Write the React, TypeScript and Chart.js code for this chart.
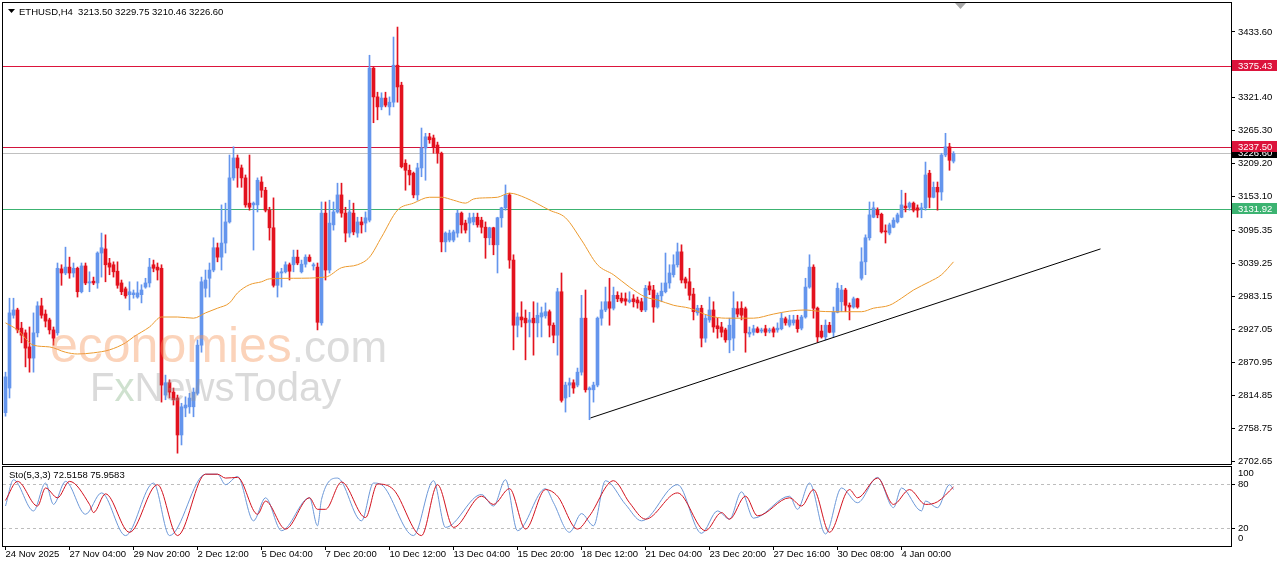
import React, { useEffect, useRef } from 'react';
import { Chart, registerables } from 'chart.js';

Chart.register(...registerables);

// ---------- DATA ----------
const opens = [
  2785, 2827, 2951, 2960, 2929, 2921, 2897, 2878, 2921, 2967, 2953, 2943, 2926, 2921, 3030, 3023, 3033, 3023, 3031, 2991,
  3035, 3006, 3009, 3006, 3057, 3064, 3040, 3037, 3026, 3006, 2996, 2986, 2986, 2982, 2986, 2999, 3006, 3037, 3033, 3031,
  2815, 2836, 2820, 2810, 2747, 2793, 2795, 2795, 2818, 2900, 2997, 3014, 3028, 3066, 3050, 3074, 3110, 3185, 3219, 3202,
  3185, 3142, 3139, 3139, 3178, 3164, 3130, 3100, 3002, 3023, 3025, 3037, 3037, 3050, 3025, 3038, 3050, 3035, 3033, 2938,
  3125, 3028, 3105, 3127, 3156, 3125, 3091, 3125, 3091, 3110, 3108, 3113, 3372, 3323, 3306, 3321, 3306, 3314, 3377, 3343,
  3210, 3198, 3193, 3156, 3202, 3236, 3255, 3253, 3241, 3227, 3076, 3079, 3079, 3091, 3125, 3108, 3108, 3110, 3118, 3113,
  3101, 3083, 3100, 3071, 3117, 3134, 3156, 3045, 2934, 2948, 2946, 2939, 2946, 2938, 2948, 2950, 2957, 2934, 2917, 2991,
  2810, 2832, 2836, 2832, 2854, 2946, 2824, 2824, 2832, 2946, 2960, 2974, 2963, 2985, 2980, 2979, 2974, 2979, 2977, 2974,
  2960, 3001, 2994, 2965, 2984, 2991, 3006, 3020, 3037, 3059, 3013, 3008, 2987, 2955, 2963, 2912, 2943, 2960, 2933, 2931,
  2926, 2909, 2912, 2962, 2963, 2962, 2919, 2922, 2928, 2924, 2928, 2924, 2928, 2926, 2928, 2945, 2934, 2938, 2943, 2929,
  2948, 2999, 3033, 2963, 2924, 2914, 2934, 2922, 2956, 2974, 2994, 2968, 2965, 2979, 3014, 3042, 3083, 3118, 3130, 3123,
  3094, 3091, 3101, 3110, 3118, 3137, 3135, 3142, 3134, 3132, 3134, 3193, 3152, 3169, 3161, 3224, 3238, 3213.5,
];
const highs = [
  2854, 2980, 2980, 2963, 2939, 2926, 2931, 2955, 2974, 2980, 2960, 2946, 2931, 3040, 3037, 3067, 3050, 3040, 3033, 3040,
  3040, 3025, 3016, 3059, 3091, 3088, 3048, 3042, 3042, 3011, 2999, 3008, 2994, 3008, 3003, 3014, 3048, 3045, 3040, 3037,
  2849, 2841, 2827, 2815, 2801, 2812, 2818, 2827, 2909, 3016, 3028, 3040, 3083, 3074, 3139, 3142, 3224, 3238, 3224, 3207,
  3190, 3224, 3144, 3185, 3187, 3169, 3135, 3151, 3025, 3031, 3042, 3040, 3062, 3062, 3045, 3054, 3054, 3040, 3040, 3144,
  3144, 3147, 3144, 3176, 3176, 3135, 3147, 3142, 3118, 3118, 3127, 3394, 3374, 3331, 3330, 3331, 3323, 3425, 3442, 3348,
  3216, 3207, 3195, 3210, 3270, 3261, 3261, 3258, 3246, 3229, 3093, 3096, 3096, 3130, 3127, 3113, 3125, 3125, 3125, 3118,
  3110, 3101, 3101, 3118, 3135, 3173, 3159, 3054, 2955, 2974, 2960, 2956, 2974, 2972, 2965, 2972, 2960, 2938, 2997, 3023,
  2837, 2844, 2841, 2861, 2985, 2994, 2829, 2837, 2948, 2974, 2999, 3014, 2999, 2991, 2989, 2989, 2991, 2986, 2982, 2980,
  3002, 3008, 3002, 2989, 3006, 3057, 3037, 3054, 3074, 3071, 3016, 3031, 2997, 2968, 2968, 2951, 2982, 2974, 2946, 2939,
  2929, 2946, 2991, 2974, 2974, 2965, 2931, 2934, 2931, 2929, 2934, 2929, 2931, 2938, 2955, 2948, 2951, 2951, 2951, 2951,
  3014, 3054, 3037, 2965, 2934, 2943, 2939, 2965, 3006, 3002, 2997, 2972, 2982, 2980, 3066, 3088, 3144, 3144, 3134, 3125,
  3105, 3108, 3117, 3125, 3164, 3159, 3144, 3144, 3139, 3142, 3212, 3198, 3178, 3178, 3227, 3261, 3244, 3229.75,
];
const lows = [
  2779, 2810, 2946, 2921, 2904, 2863, 2854, 2854, 2914, 2946, 2931, 2919, 2900, 2917, 3002, 3020, 3014, 3016, 2982, 2989,
  3003, 2991, 3003, 2997, 3016, 3008, 3020, 3016, 2997, 2986, 2980, 2960, 2980, 2980, 2972, 2997, 2999, 3025, 3011, 2803,
  2807, 2810, 2798, 2716, 2730, 2778, 2784, 2778, 2815, 2888, 2982, 2982, 3025, 3042, 3028, 3057, 3108, 3181, 3169, 3169,
  3135, 3130, 3062, 3127, 3152, 3127, 3079, 2999, 2982, 2999, 3023, 3011, 3025, 3037, 3023, 3033, 3042, 3028, 2926, 2934,
  3011, 3023, 3096, 3125, 3118, 3076, 3084, 3088, 3084, 3091, 3093, 3110, 3279, 3284, 3301, 3306, 3292, 3306, 3314, 3202,
  3164, 3173, 3151, 3147, 3187, 3181, 3244, 3227, 3210, 3059, 3059, 3076, 3076, 3084, 3091, 3091, 3076, 3105, 3101, 3091,
  3048, 3071, 3054, 3023, 3101, 3130, 3031, 2892, 2914, 2931, 2875, 2914, 2883, 2914, 2914, 2946, 2914, 2904, 2883, 2803,
  2786, 2812, 2818, 2829, 2849, 2820, 2773, 2803, 2829, 2934, 2957, 2934, 2960, 2974, 2972, 2968, 2972, 2965, 2963, 2957,
  2957, 2986, 2939, 2963, 2974, 2989, 2997, 3016, 3033, 3006, 2997, 2977, 2943, 2951, 2897, 2905, 2939, 2922, 2912, 2914,
  2905, 2887, 2891, 2948, 2943, 2888, 2914, 2917, 2921, 2921, 2916, 2921, 2914, 2922, 2926, 2934, 2931, 2934, 2922, 2926,
  2946, 2997, 2946, 2905, 2912, 2909, 2921, 2914, 2955, 2957, 2957, 2943, 2963, 2963, 3011, 3020, 3079, 3117, 3117, 3091,
  3074, 3088, 3100, 3108, 3117, 3127, 3130, 3127, 3118, 3117, 3130, 3134, 3151, 3130, 3147, 3221, 3198, 3210.46,
];
const closes = [
  2846, 2955, 2960, 2926, 2917, 2895, 2878, 2921, 2967, 2951, 2941, 2926, 2912, 3031, 3023, 3033, 3023, 3031, 2991, 3035,
  3006, 3008, 3006, 3057, 3066, 3037, 3033, 3025, 3002, 2991, 2984, 2991, 2989, 2989, 2994, 3006, 3033, 3031, 3028, 2832,
  2836, 2820, 2807, 2747, 2795, 2798, 2810, 2820, 2900, 3008, 3011, 3028, 3066, 3050, 3074, 3110, 3185, 3219, 3202, 3185,
  3139, 3135, 3142, 3181, 3164, 3130, 3100, 3002, 3023, 3025, 3037, 3026, 3050, 3040, 3038, 3050, 3043, 3037, 2939, 3125,
  3028, 3108, 3127, 3156, 3125, 3091, 3127, 3093, 3110, 3105, 3117, 3372, 3323, 3306, 3321, 3309, 3314, 3377, 3340, 3204,
  3198, 3190, 3156, 3202, 3236, 3255, 3250, 3238, 3227, 3076, 3091, 3091, 3093, 3125, 3105, 3096, 3117, 3118, 3105, 3101,
  3083, 3100, 3071, 3117, 3134, 3156, 3045, 2934, 2948, 2943, 2938, 2943, 2938, 2951, 2955, 2957, 2934, 2917, 2991, 2806,
  2832, 2836, 2827, 2854, 2946, 2824, 2827, 2832, 2946, 2960, 2974, 2963, 2985, 2979, 2975, 2975, 2977, 2974, 2972, 2960,
  2997, 2994, 2965, 2985, 2992, 3006, 3023, 3037, 3059, 3011, 3006, 2985, 2957, 2963, 2912, 2946, 2960, 2931, 2928, 2922,
  2909, 2934, 2963, 2953, 2951, 2921, 2922, 2928, 2922, 2926, 2922, 2926, 2922, 2929, 2946, 2938, 2943, 2943, 2928, 2948,
  2999, 3033, 2963, 2914, 2914, 2934, 2922, 2956, 2997, 2994, 2968, 2965, 2979, 2965, 3042, 3083, 3122, 3134, 3122, 3093,
  3093, 3105, 3113, 3122, 3139, 3134, 3142, 3130, 3130, 3134, 3190, 3152, 3169, 3161, 3224, 3238, 3215, 3226.6,
];

// moving average (orange), sampled at candle indices
const maIdx = [0, 3, 7, 11, 15, 18, 22, 26, 30, 32, 36, 39, 43, 47, 50, 53, 56, 58, 61, 64, 66, 72, 80, 84, 88, 91, 94, 98,
  102, 106, 109, 112, 115, 117, 120, 123, 126, 130, 136, 140, 144, 148, 152, 156, 160, 163, 167, 171, 176, 180, 184, 187,
  192, 196, 200, 203, 207, 214, 217, 221, 224, 227, 231, 234, 237];
const maVal = [2938, 2926, 2900, 2897, 2888, 2885, 2887, 2892, 2904, 2914, 2931, 2948, 2948, 2946, 2955, 2963, 2972, 2989,
  3003, 3008, 3013, 3014, 3016, 3032, 3037, 3050, 3084, 3130, 3142, 3152, 3152, 3147, 3142, 3149, 3151, 3152, 3159, 3151,
  3130, 3117, 3079, 3037, 3020, 2999, 2982, 2977, 2968, 2963, 2950, 2946, 2946, 2946, 2953, 2958, 2960, 2958, 2957, 2957,
  2963, 2968, 2980, 2994, 3008, 3020, 3042];

// Stochastic(5,3,3): main line (blue) and signal line (red)
const stoMainIdx = [0, 2, 7, 10, 12, 15, 20, 24, 30, 37, 41, 50, 53, 55, 58, 62, 65, 69, 76, 78, 79, 83, 89, 92, 94, 102,
  107, 110, 119, 122, 125, 128, 135, 137, 141, 144, 147, 150, 155, 159, 168, 174, 178, 181, 184, 187, 196, 198, 201, 205,
  209, 213, 218, 222, 224, 229, 230, 233, 236, 237];
const stoMainVal = [50, 85.8, 43.3, 81.3, 52.2, 83.6, 38.8, 67.9, 9.7, 81.3, 9.7, 93.4, 93.4, 79.1, 90.3, 29.8, 61.2, 16.4,
  61.2, 23.1, 59, 88.1, 29.8, 81.3, 79.1, 9.7, 84.5, 20.9, 65.7, 50, 85.8, 16.4, 73.7, 54.5, 14.2, 39.7, 23.1, 84.5, 52.2,
  29.8, 79.1, 12.8, 43.3, 32.1, 69.3, 33.4, 63.4, 45.5, 81.3, 11.9, 74.6, 54.5, 89, 47.8, 74.6, 43.3, 56.7, 47.8, 79.1,
  72.5158];
const stoSigIdx = [0, 3, 8, 10, 13, 16, 21, 22, 25, 31, 38, 43, 50, 53, 55, 58, 63, 65, 70, 76, 78, 80, 84, 90, 93, 97, 104,
  108, 112, 119, 122, 126, 130, 135, 138, 143, 146, 152, 156, 160, 168, 175, 179, 181, 185, 188, 196, 199, 202, 206, 211,
  213, 218, 222, 226, 230, 233, 237];
const stoSigVal = [57.6, 83.6, 50, 74.6, 61.2, 83.6, 52.2, 41.1, 66.6, 14.2, 79.1, 9.7, 93.4, 93.4, 88.1, 89, 38.8, 56.7,
  18.6, 61.2, 45.5, 45.5, 82.7, 34.3, 80, 72.4, 9.7, 79.1, 20.9, 63.4, 52.2, 73.7, 18.6, 72.4, 63.4, 18.6, 36.6, 84.5, 54.5,
  32.1, 67.9, 16.4, 41.1, 32.1, 63.4, 36.6, 61.2, 50, 72.4, 14.2, 72.4, 61.2, 88.1, 52.2, 72.4, 52.2, 55.8, 75.9583];

const priceTicks = [2702.65, 2758.75, 2814.85, 2870.95, 2927.05, 2983.15, 3039.25, 3095.35, 3153.1, 3209.2, 3265.3,
  3321.4, 3433.6];
const stoTicks = [20, 80];
const timeLabels = ['24 Nov 2025', '27 Nov 04:00', '29 Nov 20:00', '2 Dec 12:00', '5 Dec 04:00', '7 Dec 20:00',
  '10 Dec 12:00', '13 Dec 04:00', '15 Dec 20:00', '18 Dec 12:00', '21 Dec 04:00', '23 Dec 20:00', '27 Dec 16:00',
  '30 Dec 08:00', '4 Jan 00:00'];
const timeLabelIdx = [0, 16, 32, 48, 64, 80, 96, 112, 128, 144, 160, 176, 192, 208, 224];

const levelPrices = [3375.43, 3226.6, 3237.5, 3131.92];
const trendIdx = [146.25, 273.75];
const trendVal = [2776, 3064];

const headerText = 'ETHUSD,H4  3213.50 3229.75 3210.46 3226.60';
const stoText = 'Sto(5,3,3) 72.5158 75.9583';

// ---------- STYLE / LAYOUT ----------
const W = 1280;
const H = 567;
const LEFT = 3;
const RIGHT = 1231;
const MAIN_TOP = 3;
const MAIN_BOTTOM = 464;
const STO_TOP = 467;
const STO_BOTTOM = 546;
const X_MIN = -0.625;
const X_MAX = X_MIN + (RIGHT - LEFT) / 4;
const Y_MAX = 3483.0;
const Y_MIN = 2697.54;
const STO_MAX = 103.2;
const STO_MIN = -4.5;
const BULL = '#6495ED';
const BEAR = '#E3121E';
const FONT = '"Liberation Sans", Arial, sans-serif';
const levelLine = ['#DC143C', '#C0C0C0', '#D2143C', '#3CB371'];
const levelTag = ['#DC143C', '#000000', '#DC143C', '#3CB371'];

export default function App() {
  const mainRef = useRef<HTMLCanvasElement | null>(null);
  const stoRef = useRef<HTMLCanvasElement | null>(null);

  useEffect(() => {
    const idx = opens.map((_, i) => i);
    const colors = idx.map((i) => (closes[i] >= opens[i] ? BULL : BEAR));

    const mainPlugin = {
      id: 'mainDecor',
      beforeDatasetsDraw(chart: any) {
        const { ctx, chartArea, scales } = chart;
        ctx.save();
        levelPrices.forEach((p, k) => {
          const y = Math.round(scales.y.getPixelForValue(p)) + 0.5;
          ctx.strokeStyle = levelLine[k];
          ctx.lineWidth = 1;
          ctx.beginPath();
          ctx.moveTo(chartArea.left, y);
          ctx.lineTo(chartArea.right, y);
          ctx.stroke();
        });
        ctx.restore();
      },
      afterDatasetsDraw(chart: any) {
        const { ctx } = chart;
        ctx.save();
        ctx.textBaseline = 'alphabetic';
        ctx.textAlign = 'left';
        ctx.font = `50px ${FONT}`;
        ctx.fillStyle = 'rgba(245,150,90,0.42)';
        ctx.fillText('economies', 50, 362);
        const w1 = ctx.measureText('economies').width;
        ctx.font = `44px ${FONT}`;
        ctx.fillStyle = 'rgba(150,150,150,0.33)';
        ctx.fillText('.com', 50 + w1, 362);
        ctx.font = `40px ${FONT}`;
        let x = 90;
        ctx.fillStyle = 'rgba(150,150,150,0.35)';
        ctx.fillText('F', x, 401);
        x += ctx.measureText('F').width;
        ctx.fillStyle = 'rgba(110,165,110,0.33)';
        ctx.fillText('x', x, 401);
        x += ctx.measureText('x').width;
        ctx.fillStyle = 'rgba(150,150,150,0.35)';
        ctx.fillText('NewsToday', x, 401);
        ctx.restore();
      },
      afterDraw(chart: any) {
        const { ctx, chartArea, scales } = chart;
        ctx.save();
        // frame
        ctx.strokeStyle = '#000';
        ctx.lineWidth = 1;
        ctx.strokeRect(chartArea.left - 0.5, chartArea.top - 0.5, chartArea.right - chartArea.left + 1, chartArea.bottom - chartArea.top + 1);
        // header
        ctx.fillStyle = '#000';
        ctx.beginPath();
        ctx.moveTo(8, 9);
        ctx.lineTo(15, 9);
        ctx.lineTo(11.5, 13);
        ctx.closePath();
        ctx.fill();
        ctx.font = `9.5px ${FONT}`;
        ctx.textBaseline = 'middle';
        ctx.textAlign = 'left';
        ctx.fillText(headerText, 19, 12);
        // shift marker
        ctx.fillStyle = '#A8A8A8';
        ctx.beginPath();
        ctx.moveTo(955, 3);
        ctx.lineTo(966, 3);
        ctx.lineTo(960.5, 9);
        ctx.closePath();
        ctx.fill();
        // price tags
        levelPrices.forEach((p, k) => {
          const y = Math.round(scales.y.getPixelForValue(p));
          ctx.fillStyle = levelTag[k];
          ctx.fillRect(chartArea.right + 1, y - 6, 45, 11);
          ctx.fillStyle = '#fff';
          ctx.font = `9.5px ${FONT}`;
          ctx.fillText(p.toFixed(2), chartArea.right + 7, y);
        });
        ctx.restore();
      },
    };

    const main = new Chart(mainRef.current as HTMLCanvasElement, {
      type: 'bar',
      data: {
        datasets: [
          {
            type: 'line',
            data: maIdx.map((x, k) => ({ x, y: maVal[k] })),
            borderColor: '#EC9A2E',
            borderWidth: 1,
            pointRadius: 0,
            cubicInterpolationMode: 'monotone',
            order: 0,
          } as any,
          {
            type: 'line',
            data: trendIdx.map((x, k) => ({ x, y: trendVal[k] })),
            borderColor: '#000000',
            borderWidth: 1,
            pointRadius: 0,
            order: 0,
          } as any,
          {
            type: 'bar',
            data: idx.map((i) => ({ x: i, y: [opens[i], closes[i]] })),
            backgroundColor: colors,
            borderWidth: 0,
            barThickness: 3,
            minBarLength: 1,
            grouped: false,
            order: 1,
          } as any,
          {
            type: 'bar',
            data: idx.map((i) => ({ x: i, y: [lows[i], highs[i]] })),
            backgroundColor: colors,
            borderWidth: 0,
            barThickness: 1,
            grouped: false,
            order: 2,
          } as any,
        ],
      },
      options: {
        responsive: false,
        devicePixelRatio: 1,
        animation: false,
        events: [],
        layout: { padding: { left: LEFT, top: MAIN_TOP, right: 0, bottom: H - MAIN_BOTTOM } },
        plugins: { legend: { display: false }, tooltip: { enabled: false } },
        scales: {
          x: {
            type: 'linear',
            min: X_MIN,
            max: X_MAX,
            display: false,
            offset: false,
            grid: { offset: false },
          },
          y: {
            type: 'linear',
            position: 'right',
            min: Y_MIN,
            max: Y_MAX,
            bounds: 'data',
            afterBuildTicks: (s: any) => {
              s.ticks = priceTicks.map((v) => ({ value: v }));
            },
            afterFit: (s: any) => {
              s.width = W - RIGHT;
              s.paddingTop = 0;
              s.paddingBottom = 0;
            },
            ticks: {
              color: '#000',
              font: { family: FONT, size: 9.5 },
              padding: 3,
              autoSkip: false,
              callback: (v: any) => Number(v).toFixed(2),
            },
            grid: { drawOnChartArea: false, drawTicks: true, tickLength: 4, color: '#000' },
            border: { display: false },
          },
        },
      } as any,
      plugins: [mainPlugin],
    });

    const stoPlugin = {
      id: 'stoDecor',
      beforeDatasetsDraw(chart: any) {
        const { ctx, chartArea, scales } = chart;
        ctx.save();
        ctx.strokeStyle = '#BDBDBD';
        ctx.lineWidth = 1;
        ctx.setLineDash([3, 3]);
        stoTicks.forEach((v) => {
          const y = Math.round(scales.y.getPixelForValue(v)) + 0.5;
          ctx.beginPath();
          ctx.moveTo(chartArea.left, y);
          ctx.lineTo(chartArea.right, y);
          ctx.stroke();
        });
        ctx.restore();
      },
      afterDraw(chart: any) {
        const { ctx, chartArea, scales } = chart;
        ctx.save();
        ctx.strokeStyle = '#000';
        ctx.lineWidth = 1;
        ctx.strokeRect(chartArea.left - 0.5, chartArea.top - 0.5, chartArea.right - chartArea.left + 1, chartArea.bottom - chartArea.top + 1);
        ctx.fillStyle = '#000';
        ctx.font = `9.5px ${FONT}`;
        ctx.textBaseline = 'middle';
        ctx.textAlign = 'left';
        ctx.fillText(stoText, 9, chartArea.top + 8);
        const lx = chartArea.right + 7;
        ctx.fillText('100', lx, chartArea.top + 6);
        ctx.fillText('80', lx, scales.y.getPixelForValue(80));
        ctx.fillText('20', lx, scales.y.getPixelForValue(20));
        ctx.fillText('0', lx, chartArea.bottom - 8);
        ctx.restore();
      },
    };

    const sto = new Chart(stoRef.current as HTMLCanvasElement, {
      type: 'line',
      data: {
        datasets: [
          {
            data: stoSigIdx.map((x, k) => ({ x, y: stoSigVal[k] })),
            borderColor: '#D2121E',
            borderWidth: 1,
            pointRadius: 0,
            cubicInterpolationMode: 'monotone',
            order: 0,
          },
          {
            data: stoMainIdx.map((x, k) => ({ x, y: stoMainVal[k] })),
            borderColor: '#6C98D8',
            borderWidth: 1,
            pointRadius: 0,
            cubicInterpolationMode: 'monotone',
            order: 1,
          },
        ],
      },
      options: {
        responsive: false,
        devicePixelRatio: 1,
        animation: false,
        events: [],
        layout: { padding: { left: LEFT, top: STO_TOP, right: 0, bottom: 0 } },
        plugins: { legend: { display: false }, tooltip: { enabled: false } },
        scales: {
          x: {
            type: 'linear',
            position: 'bottom',
            min: X_MIN,
            max: X_MAX,
            bounds: 'data',
            offset: false,
            afterBuildTicks: (s: any) => {
              s.ticks = timeLabelIdx.map((v) => ({ value: v }));
            },
            afterFit: (s: any) => {
              s.height = H - STO_BOTTOM;
              s.paddingLeft = 0;
              s.paddingRight = 0;
            },
            ticks: {
              color: '#000',
              font: { family: FONT, size: 9.5 },
              align: 'start',
              maxRotation: 0,
              minRotation: 0,
              autoSkip: false,
              padding: -1,
              callback: (_v: any, i: number) => timeLabels[i],
            },
            grid: { drawOnChartArea: false, drawTicks: true, tickLength: 4, color: '#000', offset: false },
            border: { display: false },
          },
          y: {
            type: 'linear',
            position: 'right',
            min: STO_MIN,
            max: STO_MAX,
            bounds: 'data',
            afterBuildTicks: (s: any) => {
              s.ticks = stoTicks.map((v) => ({ value: v }));
            },
            afterFit: (s: any) => {
              s.width = W - RIGHT;
              s.paddingTop = 0;
              s.paddingBottom = 0;
            },
            ticks: { display: true, callback: () => '', font: { family: FONT, size: 9.5 } },
            grid: { drawOnChartArea: false, drawTicks: true, tickLength: 4, color: '#000' },
            border: { display: false },
          },
        },
      } as any,
      plugins: [stoPlugin],
    });

    return () => {
      main.destroy();
      sto.destroy();
    };
  }, []);

  return (
    <div style={{ position: 'fixed', left: 0, top: 0, width: W, height: H, background: '#fff', overflow: 'hidden' }}>
      <canvas ref={mainRef} width={W} height={H} style={{ position: 'absolute', left: 0, top: 0, width: W, height: H }} />
      <canvas ref={stoRef} width={W} height={H} style={{ position: 'absolute', left: 0, top: 0, width: W, height: H }} />
    </div>
  );
}
